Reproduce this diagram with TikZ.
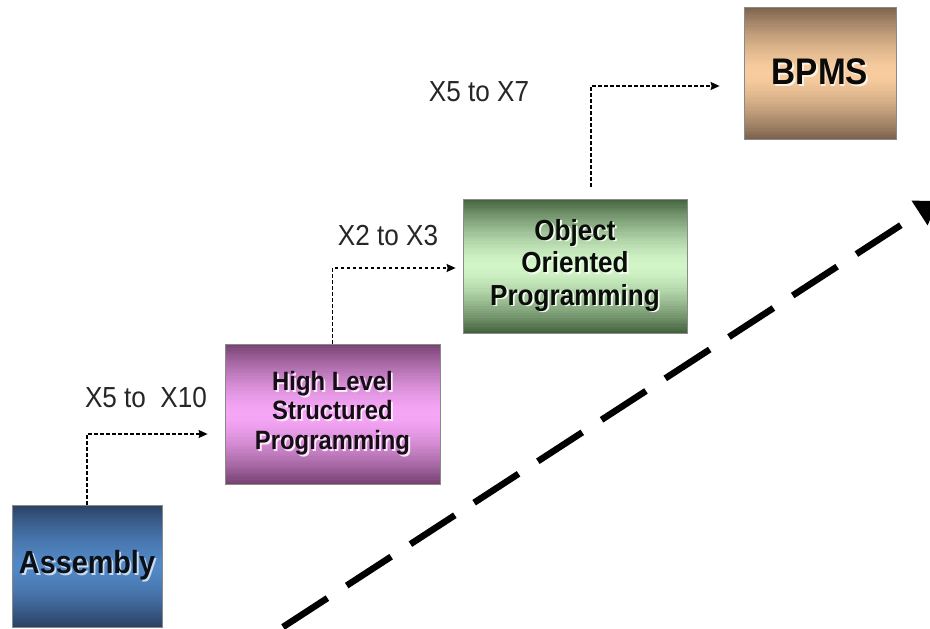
\documentclass[tikz,border=0pt]{standalone}
\usepackage{fontspec}
\setmainfont{Liberation Sans}[FakeStretch=0.9]
\usetikzlibrary{arrows.meta,calc}
\pgfdeclarelayer{paper}
\pgfdeclarelayer{grad}
\pgfsetlayers{paper,grad,main}
\definecolor{asmdark}{HTML}{2A4062}
\definecolor{asmmid}{HTML}{5288C6}
\definecolor{hldark}{HTML}{74406F}
\definecolor{hlmid}{HTML}{F6A6F6}
\definecolor{oodark}{HTML}{40603B}
\definecolor{oomid}{HTML}{D2F5C8}
\definecolor{bpdark}{HTML}{79604B}
\definecolor{bpmid}{HTML}{F8CC9E}
\definecolor{connc}{HTML}{6E6E6E}
\definecolor{edgec}{HTML}{8A8A8A}
\newcommand\shd[2][white]{\makebox[0pt][l]{\hspace{1.8pt}\raisebox{-1.8pt}{\textcolor{#1}{#2}}}#2}
\newcommand\gradfill[3]{%
  \begin{pgfonlayer}{grad}
  \foreach \i in {0,...,59}{%
    \pgfmathsetmacro\pa{\i/60}%
    \pgfmathsetmacro\pb{min(1,(\i+1.4)/60)}%
    \pgfmathtruncatemacro\pd{100*(abs(\i+0.5-30)/30)^1.5}%
    \fill[#2!\pd!#3] ($(#1.north west)!\pa!(#1.south west)$) rectangle ($(#1.north east)!\pb!(#1.south east)$);
  }
  \end{pgfonlayer}}
\tikzset{
  stagebox/.style={rectangle, draw=edgec, line width=0.8pt, align=center, inner sep=0pt},
  conn/.style={draw=connc, line width=1.3pt, dash pattern=on 3.5pt off 2.5pt, -{Stealth[length=9pt,width=8pt,inset=1pt]}, black},
  bigarrow/.style={draw=black, line width=6.5pt, dash pattern=on 53pt off 23pt, -{Triangle[length=22pt,width=28pt]}},
  steplabel/.style={inner sep=0pt, text=black!85, font=\fontsize{29}{32}\selectfont}
}
\begin{document}
\begin{tikzpicture}[x=1pt,y=-1pt]
\begin{pgfonlayer}{paper}
\fill[white] (0,0) rectangle (930,629);
\end{pgfonlayer}
\useasboundingbox (0,0) rectangle (930,629);
% boxes
\node[stagebox, minimum width=150pt, minimum height=122pt,
      text=black!75!asmdark, font=\bfseries\fontsize{32}{34}\selectfont]
      (asm) at (87,566) {\shd[white!70!asmmid]{Assembly}};
\node[stagebox, minimum width=215pt, minimum height=140pt,
      text=black!80!hldark, font=\bfseries\fontsize{26.5}{29.5}\selectfont]
      (hlsp) at (332.5,414) {\shd[white!75!hlmid]{High Level}\\\shd[white!75!hlmid]{Structured}\\\shd[white!75!hlmid]{Programming}};
\node[stagebox, minimum width=224pt, minimum height=134pt,
      text=black!85!oodark, font=\bfseries\fontsize{29}{32.5}\selectfont]
      (oop) at (575,266) {\shd[white!75!oomid]{Object}\\\shd[white!75!oomid]{Oriented}\\\shd[white!75!oomid]{Programming}};
\node[stagebox, minimum width=152pt, minimum height=132pt,
      text=black!90!bpdark, font=\bfseries\fontsize{37}{38}\selectfont]
      (bpms) at (820,73) {\shd[white!75!bpmid]{BPMS}};
\gradfill{asm}{asmdark}{asmmid}
\gradfill{hlsp}{hldark}{hlmid}
\gradfill{oop}{oodark}{oomid}
\gradfill{bpms}{bpdark}{bpmid}
% labels
\node[steplabel] (l1) at (146,398) {X5 to\ \ X10};
\node[steplabel] (l2) at (388,236) {X2 to X3};
\node[steplabel] (l3) at (479,92) {X5 to X7};
% connectors
\draw[conn] (asm.north) |- ($(hlsp.west)+(-17,20)$);
\draw[conn] (hlsp.north) |- ($(oop.west)+(-7,2)$);
\draw[conn] ($(oop.north)+(16,-12)$) |- ($(bpms.west)+(-24,13)$);
% big trend arrow
\coordinate (bs) at (283,627);
\coordinate (be) at (938,201);
\draw[bigarrow] (bs) -- (be);
\end{tikzpicture}
\end{document}
